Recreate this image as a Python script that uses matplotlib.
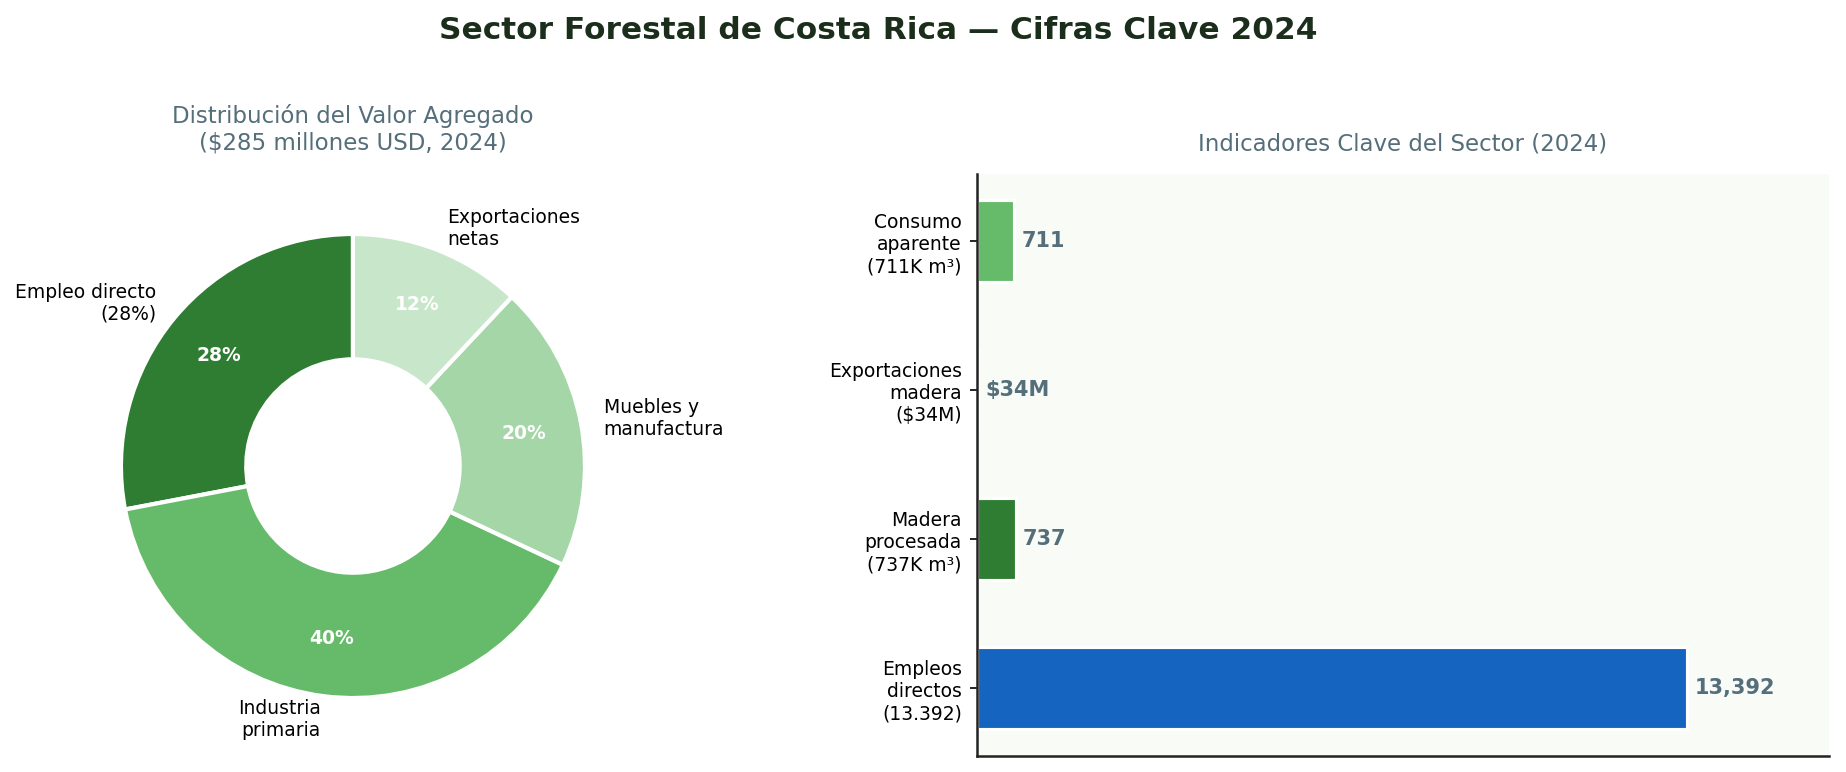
import numpy as np
import matplotlib
matplotlib.use('Agg')
import matplotlib.pyplot as plt

# donut data
pie_labels = ['Empleo directo\n(28%)', 'Industria\nprimaria', 'Muebles y\nmanufactura', 'Exportaciones\nnetas']
pie_shares = [28, 40, 20, 12]
pie_colors = ['#2e7d32', '#66bb6a', '#a5d6a7', '#c8e6c9']

# bar data (bottom to top)
bar_cats = ['Empleos\ndirectos\n(13.392)', 'Madera\nprocesada\n(737K m³)', 'Exportaciones\nmadera\n($34M)', 'Consumo\naparente\n(711K m³)']
bar_vals = [13392, 737, 34, 711]
bar_text = ['13,392', '737', '$34M', '711']
bar_colors = ['#1565c0', '#2e7d32', '#a5d6a7', '#66bb6a']

fig = plt.figure(figsize=(1846/150, 772/150), dpi=150)
fig.suptitle('Sector Forestal de Costa Rica — Cifras Clave 2024', fontsize=15,
             fontweight='bold', color='#1b2e1b', x=0.476, y=0.979)

#%% donut
ax1 = fig.add_axes([0.0341, 0.0207, 0.3142, 0.7513])
wedges, texts, autotexts = ax1.pie(pie_shares, labels=pie_labels, colors=pie_colors,
                                   startangle=90, autopct='%1.0f%%', pctdistance=0.75,
                                   labeldistance=1.1,
                                   wedgeprops=dict(width=0.54, edgecolor='white', linewidth=2),
                                   textprops=dict(fontsize=9))
for t in autotexts:
    t.set_color('white')
    t.set_fontweight('bold')
    t.set_fontsize(9)
ax1.set_xlim(-1.25, 1.25)
ax1.set_ylim(-1.25, 1.25)
ax1.set_aspect('equal')
ax1.set_title('Distribución del Valor Agregado\n($285 millones USD, 2024)', fontsize=11,
              color='#546e7a', pad=12.5)

#%% bars
ax2 = fig.add_axes([0.529, 0.021, 0.462, 0.754])
ax2.set_facecolor('#f9fbf7')
y = np.arange(len(bar_vals))
ax2.barh(y, bar_vals, height=0.55, color=bar_colors, edgecolor='white', linewidth=1.5)
vmax = max(bar_vals)
for yi, v, s in zip(y, bar_vals, bar_text):
    ax2.text(v + vmax*0.01, yi, s, va='center', ha='left', fontsize=10,
             fontweight='bold', color='#546e7a')
ax2.set_yticks(y)
ax2.set_yticklabels(bar_cats, fontsize=9)
ax2.set_xticks([])
ax2.set_xlim(0, vmax*1.2)
ax2.spines['top'].set_visible(False)
ax2.spines['right'].set_visible(False)
ax2.spines['left'].set_color('#222222')
ax2.spines['bottom'].set_color('#222222')
ax2.spines['left'].set_linewidth(1.2)
ax2.spines['bottom'].set_linewidth(1.2)
ax2.set_title('Indicadores Clave del Sector (2024)', fontsize=11, color='#546e7a', pad=11)

fig.savefig('out.png', dpi=150)
